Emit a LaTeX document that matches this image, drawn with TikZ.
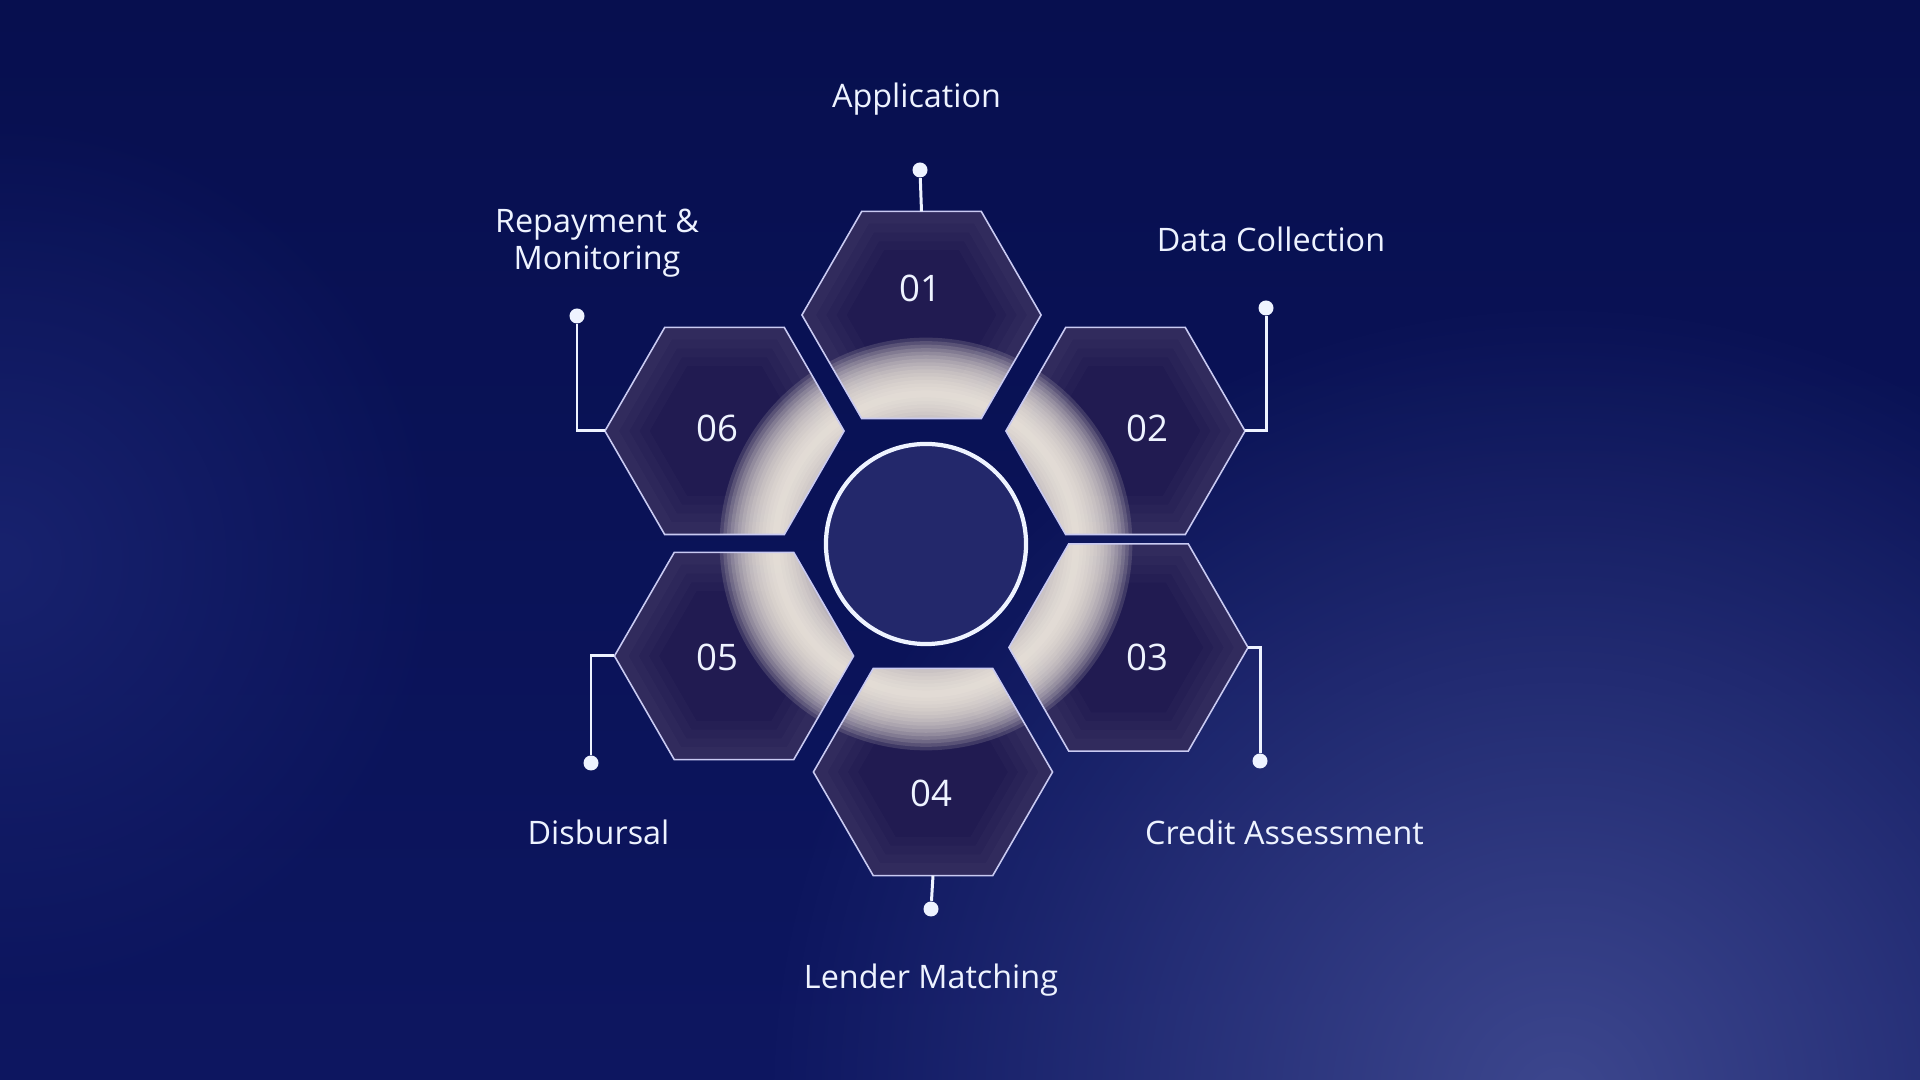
\documentclass[tikz,border=0pt]{standalone}
\usepackage{fontspec}
\setmainfont{Open Sans}
\usetikzlibrary{shapes.geometric,fadings}

\definecolor{bgtop}{HTML}{070F4F}
\definecolor{bgbot}{HTML}{0D1660}
\definecolor{bgside}{HTML}{18226E}
\definecolor{bgblob}{HTML}{3D478E}
\definecolor{hexfill}{HTML}{211B51}
\definecolor{hexline}{HTML}{C9CAF2}
\definecolor{glowc}{HTML}{F8F1E4}
\definecolor{corefill}{HTML}{23286B}
\definecolor{wirec}{HTML}{EEF3FF}

\tikzfading[name=softfade, inner color=transparent!0, outer color=transparent!100]

\tikzset{
  hexbox/.style={regular polygon, regular polygon sides=6, minimum size=2.39cm,
    inner sep=0pt, outer sep=0pt, fill=hexfill},
  corebox/.style={circle, minimum size=2cm, inner sep=0pt, fill=corefill,
    draw=wirec, line width=1.2pt},
  num/.style={font=\fontsize{10.4}{12}\selectfont, text=wirec, inner sep=0pt},
  lbl/.style={font=\fontsize{9.2}{10.8}\selectfont, text=wirec, inner sep=0pt,
    anchor=base, align=center},
  dotbox/.style={circle, fill=wirec, minimum size=0.15cm, inner sep=0pt},
  wire/.style={draw=wirec, line width=0.85pt}
}

\begin{document}
\begin{tikzpicture}[x=0.01cm, y=-0.01cm]
  \useasboundingbox (0,0) rectangle (1920,1080);
  \shade[top color=bgtop, bottom color=bgbot] (0,0) rectangle (1920,1080);
  \fill[bgside, path fading=softfade] (0,560) circle (4.5cm);
  \fill[bgblob, path fading=softfade] (1560,1100) circle (8cm);

  \coordinate (mid) at (926,544);
  \foreach \cx/\cy [count=\i] in {921.5/315, 1125.5/431, 1128.5/647.5,
      933/772, 734/656, 724.5/431}{
    \node[hexbox] (hex-\i) at (\cx,\cy) {};
    \begin{scope}
      \clip (hex-\i.corner 1) -- (hex-\i.corner 2) -- (hex-\i.corner 3)
        -- (hex-\i.corner 4) -- (hex-\i.corner 5) -- (hex-\i.corner 6) -- cycle;
      \foreach \w in {22,17,12,7}
        \draw[white, opacity=.02, line width=\w pt] (hex-\i.corner 1)
          -- (hex-\i.corner 2) -- (hex-\i.corner 3) -- (hex-\i.corner 4)
          -- (hex-\i.corner 5) -- (hex-\i.corner 6) -- cycle;
      \foreach \w in {32,30,...,2}
        \draw[glowc, opacity=.14, line width=\w pt] (mid) circle (1.5cm);
    \end{scope}
    \draw[hexline, line width=0.45pt] (hex-\i.corner 1) -- (hex-\i.corner 2)
      -- (hex-\i.corner 3) -- (hex-\i.corner 4) -- (hex-\i.corner 5)
      -- (hex-\i.corner 6) -- cycle;
  }
  \node[corebox] (core) at (mid) {};

  \foreach \nx/\ny [count=\i] in {920/288.5, 1147/428, 1147/657, 931/793,
      717/657, 717/428}
    \node[num] (num-\i) at (\nx,\ny) {0\i};

  \foreach \dx/\dy/\lx/\ly/\t [count=\i] in {920/170/916.5/108/Application,
      1266/308/1271/252/Data Collection, 1260/761/1284.5/845/Credit Assessment,
      931/909/931/989/Lender Matching, 591/763/598.5/845/Disbursal,
      577/316/597/270/{Repayment \&\\Monitoring}}{
    \node[dotbox] (dot-\i) at (\dx,\dy) {};
    \node[lbl] (lbl-\i) at (\lx,\ly) {\t};
  }

  \draw[wire] (hex-1.north) -- (dot-1);
  \draw[wire] (hex-4.south) -- (dot-4);
  \foreach \i/\s in {2/east,3/east,5/west,6/west}
    \draw[wire] (hex-\i.\s) -| (dot-\i);
\end{tikzpicture}
\end{document}
